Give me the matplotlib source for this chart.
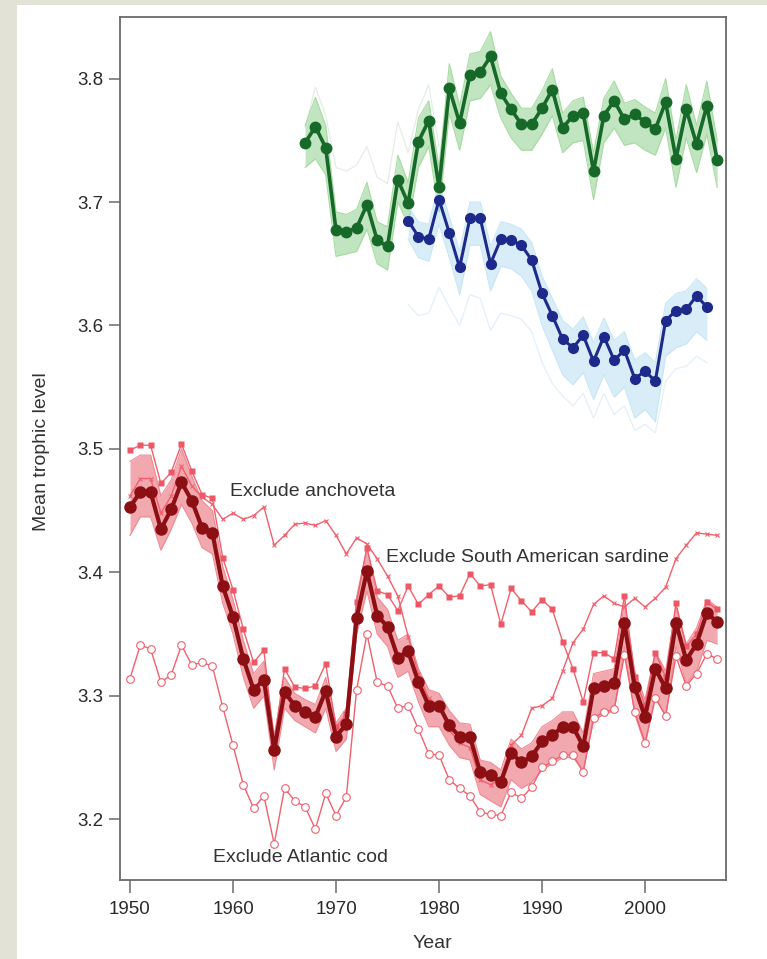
import matplotlib
matplotlib.use("Agg")
import matplotlib.pyplot as plt
import numpy as np
from matplotlib.patches import Rectangle

plt.rcParams['font.family'] = ['Liberation Sans', 'DejaVu Sans']

# ---------------- data ----------------
years_red = list(range(1950, 2008))
red_main = [3.453, 3.465, 3.465, 3.435, 3.451, 3.473, 3.458, 3.436, 3.432, 3.389,
            3.364, 3.330, 3.305, 3.313, 3.256, 3.303, 3.292, 3.287, 3.283, 3.304,
            3.267, 3.277, 3.363, 3.401, 3.365, 3.356, 3.331, 3.336, 3.311, 3.292,
            3.292, 3.276, 3.267, 3.267, 3.238, 3.236, 3.230, 3.254, 3.246, 3.251,
            3.263, 3.268, 3.275, 3.275, 3.259, 3.306, 3.308, 3.310, 3.359, 3.307,
            3.283, 3.322, 3.306, 3.359, 3.329, 3.342, 3.367, 3.360]
red_hi = [3.490, 3.495, 3.495, 3.462, 3.475, 3.500, 3.478, 3.458, 3.450, 3.405,
          3.378, 3.345, 3.318, 3.328, 3.268, 3.315, 3.302, 3.297, 3.293, 3.315,
          3.278, 3.290, 3.380, 3.420, 3.380, 3.370, 3.345, 3.350, 3.322, 3.305,
          3.302, 3.288, 3.278, 3.277, 3.248, 3.246, 3.240, 3.265, 3.257, 3.262,
          3.275, 3.280, 3.287, 3.287, 3.270, 3.318, 3.320, 3.322, 3.375, 3.320,
          3.297, 3.336, 3.320, 3.372, 3.342, 3.355, 3.378, 3.372]
red_lo = [3.430, 3.445, 3.445, 3.418, 3.435, 3.455, 3.440, 3.420, 3.415, 3.375,
          3.350, 3.315, 3.290, 3.300, 3.240, 3.290, 3.280, 3.275, 3.270, 3.290,
          3.255, 3.265, 3.350, 3.385, 3.350, 3.340, 3.315, 3.320, 3.295, 3.275,
          3.275, 3.260, 3.250, 3.248, 3.220, 3.215, 3.210, 3.232, 3.225, 3.230,
          3.240, 3.245, 3.250, 3.250, 3.240, 3.280, 3.285, 3.288, 3.340, 3.285,
          3.260, 3.300, 3.283, 3.340, 3.310, 3.320, 3.345, 3.342]

excl_anchoveta = [3.462, 3.476, 3.476, 3.448, 3.462, 3.486, 3.470, 3.461, 3.455, 3.443,
                  3.448, 3.443, 3.446, 3.453, 3.422, 3.430, 3.439, 3.440, 3.438, 3.442,
                  3.430, 3.415, 3.428, 3.423, 3.411, 3.397, 3.381, 3.348, 3.318, 3.298,
                  3.292, 3.272, 3.262, 3.258, 3.232, 3.228, 3.233, 3.260, 3.268, 3.290,
                  3.292, 3.298, 3.320, 3.343, 3.354, 3.374, 3.381, 3.375, 3.372, 3.379,
                  3.372, 3.379, 3.388, 3.411, 3.422, 3.432, 3.431, 3.430]
excl_sardine = [3.499, 3.503, 3.503, 3.472, 3.481, 3.504, 3.482, 3.463, 3.460, 3.412,
                3.386, 3.354, 3.327, 3.337, 3.262, 3.322, 3.307, 3.306, 3.308, 3.326,
                3.275, 3.285, 3.376, 3.420, 3.385, 3.382, 3.369, 3.389, 3.374, 3.382,
                3.389, 3.380, 3.381, 3.399, 3.389, 3.390, 3.358, 3.387, 3.377, 3.368,
                3.378, 3.370, 3.344, 3.322, 3.295, 3.335, 3.335, 3.330, 3.381, 3.315,
                3.292, 3.335, 3.315, 3.375, 3.340, 3.350, 3.376, 3.370]
excl_cod = [3.314, 3.341, 3.338, 3.311, 3.317, 3.341, 3.325, 3.327, 3.324, 3.291,
            3.260, 3.228, 3.209, 3.219, 3.180, 3.225, 3.215, 3.210, 3.192, 3.221,
            3.203, 3.218, 3.305, 3.350, 3.311, 3.308, 3.290, 3.292, 3.273, 3.253,
            3.252, 3.232, 3.225, 3.219, 3.206, 3.204, 3.203, 3.222, 3.217, 3.226,
            3.242, 3.247, 3.252, 3.252, 3.238, 3.282, 3.287, 3.289, 3.333, 3.287,
            3.262, 3.298, 3.284, 3.332, 3.308, 3.318, 3.334, 3.330]

years_green = list(range(1967, 2008))
green_main = [3.748, 3.761, 3.744, 3.677, 3.676, 3.679, 3.698, 3.669, 3.664, 3.718,
              3.699, 3.749, 3.766, 3.712, 3.792, 3.764, 3.803, 3.805, 3.818, 3.788,
              3.775, 3.763, 3.763, 3.776, 3.791, 3.760, 3.770, 3.772, 3.725, 3.770,
              3.782, 3.767, 3.771, 3.765, 3.759, 3.781, 3.735, 3.775, 3.747, 3.778,
              3.734]
green_hi = [3.762, 3.785, 3.762, 3.692, 3.690, 3.694, 3.716, 3.684, 3.680, 3.738,
            3.716, 3.768, 3.782, 3.728, 3.812, 3.778, 3.820, 3.822, 3.838, 3.802,
            3.788, 3.776, 3.776, 3.790, 3.808, 3.772, 3.782, 3.785, 3.740, 3.784,
            3.798, 3.780, 3.783, 3.777, 3.772, 3.800, 3.750, 3.795, 3.762, 3.798,
            3.750]
green_lo = [3.728, 3.735, 3.722, 3.656, 3.658, 3.660, 3.678, 3.650, 3.645, 3.700,
            3.682, 3.728, 3.745, 3.692, 3.772, 3.742, 3.782, 3.784, 3.795, 3.768,
            3.752, 3.742, 3.742, 3.755, 3.770, 3.740, 3.748, 3.750, 3.702, 3.748,
            3.760, 3.746, 3.748, 3.742, 3.738, 3.760, 3.712, 3.752, 3.724, 3.755,
            3.712]
green_faint = [3.760, 3.793, 3.770, 3.728, 3.725, 3.730, 3.745, 3.720, 3.715, 3.765,
               3.740, 3.775, 3.795, 3.745]

years_blue = list(range(1977, 2007))
blue_main = [3.685, 3.672, 3.670, 3.702, 3.675, 3.647, 3.687, 3.687, 3.650, 3.670,
             3.669, 3.665, 3.653, 3.626, 3.608, 3.589, 3.582, 3.592, 3.571, 3.591,
             3.572, 3.580, 3.557, 3.563, 3.555, 3.604, 3.612, 3.613, 3.624, 3.615]
blue_hi = [3.696, 3.684, 3.682, 3.716, 3.688, 3.660, 3.700, 3.700, 3.664, 3.684,
           3.682, 3.678, 3.667, 3.640, 3.622, 3.604, 3.597, 3.607, 3.586, 3.606,
           3.588, 3.595, 3.572, 3.578, 3.570, 3.618, 3.626, 3.628, 3.638, 3.630]
blue_lo = [3.670, 3.655, 3.652, 3.682, 3.655, 3.625, 3.665, 3.665, 3.628, 3.648,
           3.646, 3.640, 3.628, 3.600, 3.580, 3.560, 3.552, 3.562, 3.540, 3.560,
           3.542, 3.550, 3.525, 3.532, 3.522, 3.575, 3.582, 3.585, 3.595, 3.588]
blue_faint = [3.617, 3.608, 3.610, 3.631, 3.615, 3.600, 3.625, 3.622, 3.596, 3.610,
              3.608, 3.605, 3.595, 3.570, 3.553, 3.543, 3.535, 3.545, 3.525, 3.545,
              3.528, 3.535, 3.515, 3.520, 3.513, 3.555, 3.565, 3.567, 3.575, 3.570]

x_ticks = [1950, 1960, 1970, 1980, 1990, 2000]
y_ticks = [3.2, 3.3, 3.4, 3.5, 3.6, 3.7, 3.8]

# ---------------- figure ----------------
W, H = 767, 959
fig = plt.figure(figsize=(W / 100, H / 100), dpi=100)
fig.patch.set_facecolor('white')
# textured beige border strips
fig.add_artist(Rectangle((0, 0), 17 / W, 1, transform=fig.transFigure,
                         facecolor='#e3e2d6', edgecolor='none', zorder=0))
fig.add_artist(Rectangle((0, 1 - 5 / H), 1, 5 / H, transform=fig.transFigure,
                         facecolor='#e3e2d6', edgecolor='none', zorder=0))

ax = fig.add_axes([120 / W, 1 - 880 / H, (726 - 120) / W, (880 - 17) / H])
ax.set_xlim(1949.03, 2007.86)
ax.set_ylim(3.1508, 3.8499)

frame_col = '#6a6a6a'
for s in ax.spines.values():
    s.set_color(frame_col)
    s.set_linewidth(1.3)

ax.set_xticks(x_ticks)
ax.set_yticks(y_ticks)
ax.set_yticklabels([f"{v:.1f}" for v in y_ticks])
ax.tick_params(axis='both', direction='out', color=frame_col, width=1.1,
               labelcolor='#2a2a2a', labelsize=13.5)
ax.tick_params(axis='x', length=9, pad=6)
ax.tick_params(axis='y', length=8, pad=4)

# ---- green group ----
g_light = '#6cc36a'
ax.plot(years_green[:len(green_faint)], green_faint, color='#e4eee4', lw=0.9, zorder=1)
ax.fill_between(years_green, green_lo, green_hi, color=g_light, alpha=0.42, lw=0, zorder=2)
ax.plot(years_green, green_hi, color='#a6dba0', lw=0.8, zorder=2)
ax.plot(years_green, green_lo, color='#a6dba0', lw=0.8, zorder=2)
ax.plot(years_green, green_main, color='#17692a', lw=2.6, marker='o', ms=7.5,
        mfc='#17692a', mec='#17692a', zorder=5)

# ---- blue group ----
b_light = '#a4d6f0'
ax.plot(years_blue, blue_faint, color='#e2f0f9', lw=0.9, zorder=1)
ax.fill_between(years_blue, blue_lo, blue_hi, color=b_light, alpha=0.42, lw=0, zorder=2)
ax.plot(years_blue, blue_hi, color='#c8e6f6', lw=0.8, zorder=2)
ax.plot(years_blue, blue_lo, color='#c8e6f6', lw=0.8, zorder=2)
ax.plot(years_blue, blue_main, color='#1d2a8c', lw=2.2, marker='o', ms=7,
        mfc='#1d2a8c', mec='#1d2a8c', zorder=5)

# ---- red group ----
pink = '#f0606e'
ax.fill_between(years_red, red_lo, red_hi, color='#e2404e', alpha=0.45, lw=0, zorder=2)
ax.plot(years_red, red_hi, color='#f08a94', lw=0.8, zorder=2)
ax.plot(years_red, red_lo, color='#f08a94', lw=0.8, zorder=2)
ax.plot(years_red, excl_anchoveta, color=pink, lw=1.0, marker='x', ms=3.5, mew=0.8, zorder=3)
ax.plot(years_red, excl_sardine, color=pink, lw=1.0, marker='s', ms=5, mec='none',
        mfc='#ee5866', zorder=3)
ax.plot(years_red, excl_cod, color=pink, lw=1.0, marker='o', ms=5.5, mfc='white',
        mec=pink, mew=0.8, zorder=3)
ax.plot(years_red, red_main, color='#8c0f14', lw=3.0, marker='o', ms=8,
        mfc='#8c0f14', mec='#8c0f14', zorder=6)

# ---- annotations ----
txt_col = '#333333'
ax.text(1959.7, 3.4657, 'Exclude anchoveta', fontsize=14, color=txt_col, va='center', ha='left', zorder=7)
ax.text(1974.85, 3.4119, 'Exclude South American sardine', fontsize=14, color=txt_col, va='center', ha='left', zorder=7)
ax.text(1958.06, 3.1692, 'Exclude Atlantic cod', fontsize=14, color=txt_col, va='center', ha='left', zorder=7)

fig.text(42 / W, 1 - 452 / H, 'Mean trophic level', rotation=90, ha='center', va='center',
         fontsize=14, color=txt_col)
fig.text(432 / W, 1 - 943 / H, 'Year', ha='center', va='center', fontsize=14, color=txt_col)

fig.savefig('out.png', dpi=100)
